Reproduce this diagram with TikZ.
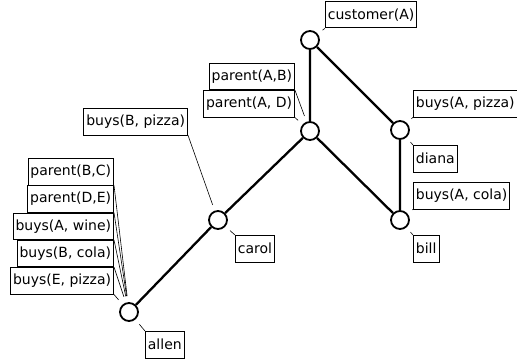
\documentclass[tikz,border=0pt]{standalone}
\usepackage{fontspec}
\setmainfont{DejaVu Sans}
\usetikzlibrary{positioning,calc}

\tikzset{
  vtx/.style={circle,draw,line width=1.8pt,fill=white,minimum size=18pt,inner sep=0pt},
  lbl/.style={draw,line width=0.8pt,fill=white,inner xsep=2.5pt,minimum height=26.5pt,
              font=\fontsize{14}{16}\selectfont},
  lead/.style={line width=0.6pt,shorten >=16pt},
  edge/.style={line width=2.3pt}
}

\begin{document}
\begin{tikzpicture}[x=1pt,y=-1pt]
\useasboundingbox (0,0) rectangle (517,361);

% vertices
\node[vtx] (p1) at (129,312) {};
\node[vtx] (p2) at (218,220) {};
\node[vtx] (p3) at (310,131) {};
\node[vtx] (p4) at (310, 40) {};
\node[vtx] (p5) at (400,130) {};
\node[vtx] (p6) at (400,220) {};

\draw[edge] (p1)--(p2)--(p3)--(p4)--(p5)--(p6)--(p3);

% labels
\node[lbl,anchor=north west] (b1) at (325,1) {customer(A)};
\node[lbl,anchor=north east] (b2) at (295,63) {parent(A,B)};
\node[lbl,anchor=north east] (b3) at (b2.south east) {parent(A, D)};
\node[lbl,anchor=north west] (b4) at (413,90) {buys(A, pizza)};
\node[lbl,anchor=north west] (b5) at (413,145) {diana};
\node[lbl,anchor=north west] (b6) at (413,182) {buys(A, cola)};
\node[lbl,anchor=north west] (b7) at (413,235) {bill};
\node[lbl,anchor=north east] (b8) at (188,108) {buys(B, pizza)};
\node[lbl,anchor=north west] (b9) at (235,235) {carol};
\node[lbl,anchor=north east] (b10) at (114,158) {parent(B,C)};
\node[lbl,anchor=north east] (b11) at (b10.south east) {parent(D,E)};
\node[lbl,anchor=north east] (b12) at (b11.south east) {buys(A, wine)};
\node[lbl,anchor=north east] (b13) at (b12.south east) {buys(B, cola)};
\node[lbl,anchor=north east] (b14) at (b13.south east) {buys(E, pizza)};
\node[lbl,anchor=north west] (b15) at (145,331) {allen};

% leaders
\draw[lead] (b1.south west) -- (p4.center);
\draw[lead] (b2.south east) -- (p3.center);
\draw[lead] (b3.south east) -- (p3.center);
\draw[lead] (b4.south west) -- (p5.center);
\draw[lead] (b5.north west) -- (p5.center);
\draw[lead] (b6.south west) -- (p6.center);
\draw[lead] (b7.north west) -- (p6.center);
\draw[lead] (b8.south east) -- (p2.center);
\draw[lead] (b9.north west) -- (p2.center);
\foreach \i in {10,...,14}{\draw[lead] (b\i.south east) -- (p1.center);}
\draw[lead] (b15.north west) -- (p1.center);
\end{tikzpicture}
\end{document}
